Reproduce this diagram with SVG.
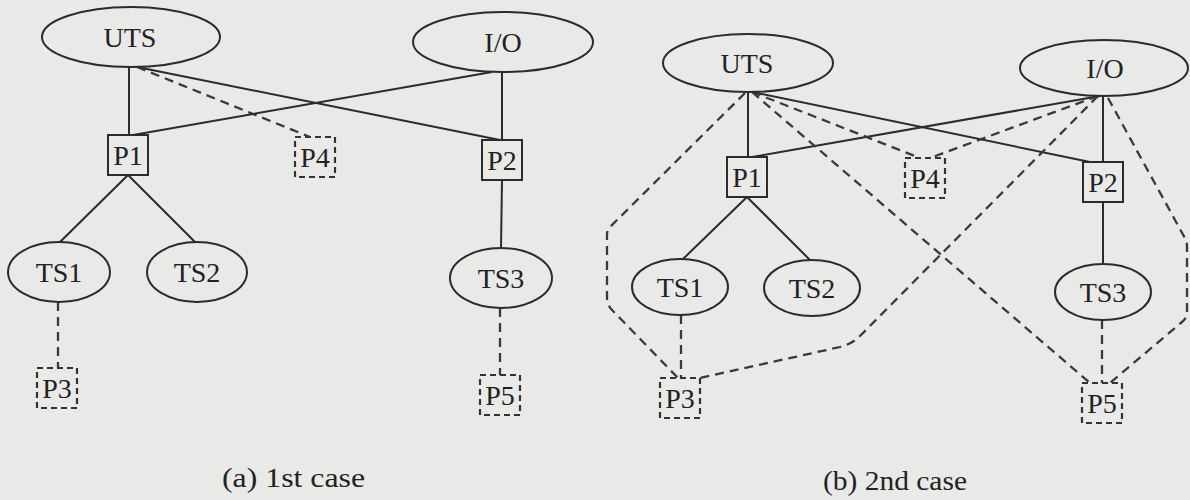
<svg xmlns="http://www.w3.org/2000/svg" width="1190" height="500" viewBox="0 0 1190 500">
<style>
.bg{fill:#e9e9e7}
.n{fill:none;stroke:#2b2b2b;stroke-width:2}
.db{fill:none;stroke:#333;stroke-width:2.2;stroke-dasharray:6 4}
.c{fill:none;stroke:#2b2b2b;stroke-width:2}
.cd{fill:none;stroke:#3a3a3a;stroke-width:2.3;stroke-dasharray:9 6}
.t{font-family:"Liberation Serif",serif;font-size:28px;fill:#222;text-anchor:middle}
.cap{font-family:"Liberation Serif",serif;font-size:28px;fill:#222}
</style>
<rect class="bg" x="0" y="0" width="1190" height="500"/>

<g id="connectors-a">
<line class="c" x1="129" y1="67" x2="129" y2="135"/>
<line class="c" x1="137" y1="67" x2="500" y2="140"/>
<line class="cd" x1="137" y1="67" x2="310" y2="137"/>
<line class="c" x1="492" y1="72" x2="133" y2="135"/>
<line class="c" x1="502" y1="72" x2="502" y2="140"/>
<line class="c" x1="128" y1="175" x2="60" y2="242"/>
<line class="c" x1="128" y1="175" x2="195" y2="242"/>
<line class="c" x1="502" y1="180" x2="501" y2="248"/>
<line class="cd" x1="58" y1="302" x2="58" y2="368"/>
<line class="cd" x1="500" y1="308" x2="500" y2="375"/>
</g>

<g id="a-UTS"><ellipse class="n" cx="131" cy="37" rx="89" ry="30"/><text class="t" x="130" y="47">UTS</text></g>
<g id="a-IO"><ellipse class="n" cx="503" cy="42" rx="90" ry="30"/><text class="t" x="503" y="52">I/O</text></g>
<g id="a-P1"><rect class="n" x="108" y="135" width="40" height="40"/><text class="t" x="128" y="165">P1</text></g>
<g id="a-P4"><rect class="db" x="295" y="137" width="40" height="40"/><text class="t" x="315" y="167">P4</text></g>
<g id="a-P2"><rect class="n" x="482" y="140" width="40" height="40"/><text class="t" x="502" y="170">P2</text></g>
<g id="a-TS1"><ellipse class="n" cx="59" cy="272" rx="51" ry="30"/><text class="t" x="59" y="282">TS1</text></g>
<g id="a-TS2"><ellipse class="n" cx="197" cy="272" rx="50" ry="30"/><text class="t" x="197" y="282">TS2</text></g>
<g id="a-TS3"><ellipse class="n" cx="501" cy="278" rx="51" ry="30"/><text class="t" x="501" y="288">TS3</text></g>
<g id="a-P3"><rect class="db" x="37" y="368" width="40" height="40"/><text class="t" x="57" y="398">P3</text></g>
<g id="a-P5"><rect class="db" x="480" y="375" width="40" height="40"/><text class="t" x="500" y="405">P5</text></g>
<text class="cap" x="222" y="487" textLength="143" lengthAdjust="spacingAndGlyphs">(a) 1st case</text>

<g id="connectors-b">
<line class="c" x1="748" y1="92" x2="748" y2="157"/>
<line class="c" x1="752" y1="92" x2="1090" y2="162"/>
<line class="c" x1="1100" y1="96" x2="752" y2="157"/>
<line class="c" x1="1103" y1="96" x2="1103" y2="162"/>
<line class="cd" x1="752" y1="92" x2="920" y2="158"/>
<line class="cd" x1="1098" y1="96" x2="930" y2="158"/>
<line class="cd" x1="752" y1="92" x2="1090" y2="383"/>
<path class="cd" d="M1098 96 L860 336 Q852 344 840 347 L700 378"/>
<path class="cd" d="M745 93 L609 228 Q607 231 607 235 L607 298 Q607 305 612 310 L678 378"/>
<path class="cd" d="M1108 98 L1186 240 Q1187 243 1187 247 L1187 312 Q1187 318 1182 322 L1110 383"/>
<line class="c" x1="747" y1="197" x2="683" y2="259"/>
<line class="c" x1="747" y1="197" x2="810" y2="260"/>
<line class="c" x1="1103" y1="202" x2="1103" y2="264"/>
<line class="cd" x1="681" y1="315" x2="681" y2="378"/>
<line class="cd" x1="1102" y1="320" x2="1102" y2="383"/>
</g>

<g id="b-UTS"><ellipse class="n" cx="748" cy="63" rx="85" ry="29"/><text class="t" x="747" y="73">UTS</text></g>
<g id="b-IO"><ellipse class="n" cx="1104" cy="68" rx="84" ry="28"/><text class="t" x="1105" y="78">I/O</text></g>
<g id="b-P1"><rect class="n" x="727" y="157" width="40" height="40"/><text class="t" x="747" y="187">P1</text></g>
<g id="b-P4"><rect class="db" x="905" y="158" width="40" height="40"/><text class="t" x="925" y="188">P4</text></g>
<g id="b-P2"><rect class="n" x="1083" y="162" width="40" height="40"/><text class="t" x="1103" y="192">P2</text></g>
<g id="b-TS1"><ellipse class="n" cx="680" cy="287" rx="48" ry="28"/><text class="t" x="680" y="297">TS1</text></g>
<g id="b-TS2"><ellipse class="n" cx="812" cy="288" rx="48" ry="28"/><text class="t" x="812" y="298">TS2</text></g>
<g id="b-TS3"><ellipse class="n" cx="1103" cy="292" rx="48" ry="28"/><text class="t" x="1103" y="302">TS3</text></g>
<g id="b-P3"><rect class="db" x="660" y="378" width="40" height="40"/><text class="t" x="680" y="408">P3</text></g>
<g id="b-P5"><rect class="db" x="1082" y="383" width="40" height="40"/><text class="t" x="1102" y="413">P5</text></g>
<text class="cap" x="823" y="490" textLength="144" lengthAdjust="spacingAndGlyphs">(b) 2nd case</text>
</svg>
